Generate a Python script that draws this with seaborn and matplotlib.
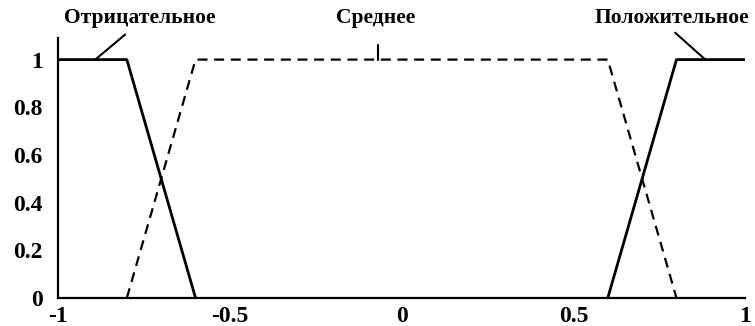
import matplotlib
matplotlib.use("Agg")
import matplotlib.pyplot as plt
import seaborn as sns
import pandas as pd

# data
neg_x = [-1.0, -0.8, -0.6]
neg_y = [1.0, 1.0, 0.0]
mid_x = [-0.8, -0.6, 0.6, 0.8]
mid_y = [0.0, 1.0, 1.0, 0.0]
pos_x = [0.6, 0.8, 1.0]
pos_y = [0.0, 1.0, 1.0]
labels = ["Отрицательное", "Среднее", "Положительное"]
x_ticks = [-1, -0.5, 0, 0.5, 1]
x_tick_labels = ["-1", "-0.5", "0", "0.5", "1"]
y_ticks = [0, 0.2, 0.4, 0.6, 0.8, 1]
y_tick_labels = ["0", "0.2", "0.4", "0.6", "0.8", "1"]

sns.set_theme(style="white")
plt.rcParams["font.family"] = ["Liberation Serif", "DejaVu Serif"]

fig = plt.figure(figsize=(7.55, 3.26), dpi=100)
ax = fig.add_axes([0.077, 0.086, 0.91, 0.797])

df_neg = pd.DataFrame({"x": neg_x, "y": neg_y})
df_mid = pd.DataFrame({"x": mid_x, "y": mid_y})
df_pos = pd.DataFrame({"x": pos_x, "y": pos_y})

sns.lineplot(data=df_neg, x="x", y="y", ax=ax, color="black", lw=2.0,
             sort=False, estimator=None)
sns.lineplot(data=df_mid, x="x", y="y", ax=ax, color="black", lw=1.6,
             linestyle=(0, (4.5, 3)), sort=False, estimator=None)
sns.lineplot(data=df_pos, x="x", y="y", ax=ax, color="black", lw=2.0,
             sort=False, estimator=None)

ax.set_xlim(-1, 1)
ax.set_ylim(0, 1.09)
ax.set_xticks(x_ticks)
ax.set_xticklabels(x_tick_labels, fontweight="bold")
ax.set_yticks(y_ticks)
ax.set_yticklabels(y_tick_labels, fontweight="bold")
ax.set_xlabel("")
ax.set_ylabel("")
ax.tick_params(direction="in", length=4, width=1, colors="black",
               labelsize=17)
ax.tick_params(axis="x", pad=6)
ax.tick_params(axis="y", pad=11)
for s in ["top", "right"]:
    ax.spines[s].set_visible(False)
for s in ["left", "bottom"]:
    ax.spines[s].set_color("black")
    ax.spines[s].set_linewidth(1.6)

# annotations with leader lines
ann = [
    (labels[0], (-0.761, 1.176), [(-0.805, 1.105), (-0.892, 1.0)]),
    (labels[1], (-0.077, 1.176), [(-0.068, 1.063), (-0.068, 1.0)]),
    (labels[2], (0.787, 1.176), [(0.796, 1.113), (0.884, 1.0)]),
]
for txt, (tx, ty), pts in ann:
    ax.text(tx, ty, txt, ha="center", va="center", fontsize=15.5,
            fontweight="bold", color="black", clip_on=False)
    ax.plot([pts[0][0], pts[1][0]], [pts[0][1], pts[1][1]], color="black",
            lw=1.5, clip_on=False)

fig.savefig("out.png", dpi=100)
